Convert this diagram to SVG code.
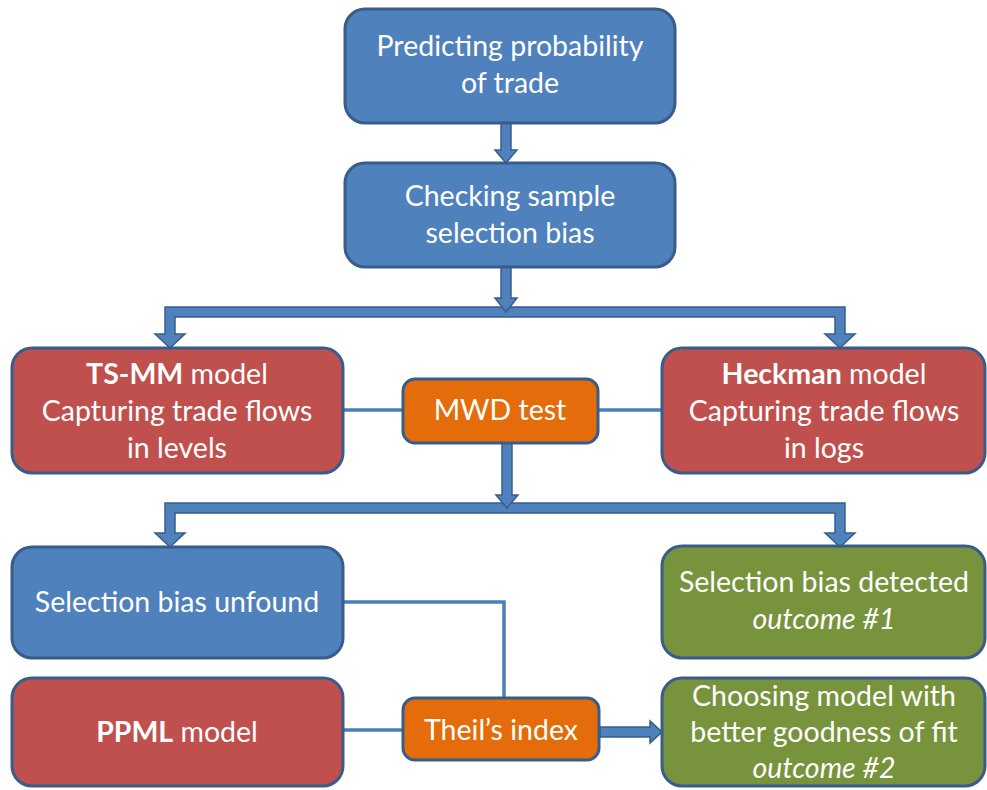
<svg xmlns="http://www.w3.org/2000/svg" width="987" height="790" viewBox="0 0 987 790">
  <style>
    .box { stroke: #385D8A; stroke-width: 3; }
    .blue { fill: #4F81BD; }
    .red { fill: #C0504D; }
    .orange { fill: #E46C0A; }
    .green { fill: #77933C; }
    .lbl { font-family: Lato, "Open Sans", "Liberation Sans", sans-serif; font-size: 28.5px; fill: #FFFFFF; text-anchor: middle; }
    .b { font-weight: bold; }
    .i { font-style: italic; }
    .blk { fill: #4F81BD; stroke: #385D8A; stroke-width: 1.5; stroke-linejoin: miter; }
    .thin { fill: none; stroke: #4A7EBB; stroke-width: 3.5; }
  </style>

  <!-- connectors -->
  <g id="connectors">
    <!-- thin links -->
    <line class="thin" x1="343" y1="410" x2="403" y2="410"/>
    <line class="thin" x1="598" y1="410" x2="662" y2="410"/>
    <polyline class="thin" points="343,602 504,602 504,698"/>
    <line class="thin" x1="343" y1="730" x2="403" y2="730"/>

    <!-- split below "Checking sample selection bias" -->
    <polygon class="blk" points="170,348 155,334 165,334 165,307 845,307 845,334 855,334 840,348 825,334 835,334 835,317 175,317 175,334 185,334"/>
    <!-- split below "MWD test" -->
    <polygon class="blk" points="170,547 155,533 165,533 165,503 845,503 845,533 855,533 840,547 825,533 835,533 835,513 175,513 175,533 185,533"/>

    <!-- straight block arrows -->
    <polygon class="blk" points="501,123 511,123 511,150 517,150 506,163 495,150 501,150"/>
    <polygon class="blk" points="501,267 511,267 511,298 517,298 506,312 495,298 501,298"/>
    <polygon class="blk" points="502,443 512,443 512,495 518,495 507,508 496,495 502,495"/>
    <polygon class="blk" points="600,727 650,727 650,721 662,732 650,743 650,737 600,737"/>
  </g>

  <g id="predicting">
    <rect class="box blue" x="345" y="9" width="330" height="114" rx="20"/>
    <text class="lbl" x="510" y="56">Predicting probability</text>
    <text class="lbl" x="510" y="93">of trade</text>
  </g>

  <g id="checking">
    <rect class="box blue" x="345" y="163" width="330" height="104" rx="20"/>
    <text class="lbl" x="510" y="206">Checking sample</text>
    <text class="lbl" x="510" y="243">selection bias</text>
  </g>

  <g id="tsmm">
    <rect class="box red" x="12" y="348" width="331" height="125" rx="20"/>
    <text class="lbl" x="177" y="384"><tspan class="b">TS-MM</tspan> model</text>
    <text class="lbl" x="177" y="421">Capturing trade flows</text>
    <text class="lbl" x="177" y="458">in levels</text>
  </g>

  <g id="mwd">
    <rect class="box orange" x="403" y="379" width="195" height="64" rx="12"/>
    <text class="lbl" x="500" y="420">MWD test</text>
  </g>

  <g id="heckman">
    <rect class="box red" x="662" y="348" width="323" height="125" rx="20"/>
    <text class="lbl" x="824" y="384"><tspan class="b">Heckman</tspan> model</text>
    <text class="lbl" x="824" y="421">Capturing trade flows</text>
    <text class="lbl" x="824" y="458">in logs</text>
  </g>

  <g id="unfound">
    <rect class="box blue" x="12" y="547" width="331" height="111" rx="20"/>
    <text class="lbl" x="177" y="612">Selection bias unfound</text>
  </g>

  <g id="detected">
    <rect class="box green" x="662" y="546" width="323" height="112" rx="20"/>
    <text class="lbl" x="824" y="592">Selection bias detected</text>
    <text class="lbl i" x="824" y="629">outcome #1</text>
  </g>

  <g id="ppml">
    <rect class="box red" x="12" y="678" width="331" height="108" rx="20"/>
    <text class="lbl" x="177" y="742"><tspan class="b">PPML</tspan> model</text>
  </g>

  <g id="theil">
    <rect class="box orange" x="403" y="698" width="196" height="62" rx="12"/>
    <text class="lbl" x="501" y="740">Theil’s index</text>
  </g>

  <g id="choosing">
    <rect class="box green" x="662" y="678" width="323" height="108" rx="20"/>
    <text class="lbl" x="824" y="706">Choosing model with</text>
    <text class="lbl" x="824" y="742">better goodness of fit</text>
    <text class="lbl i" x="824" y="778">outcome #2</text>
  </g>
</svg>
